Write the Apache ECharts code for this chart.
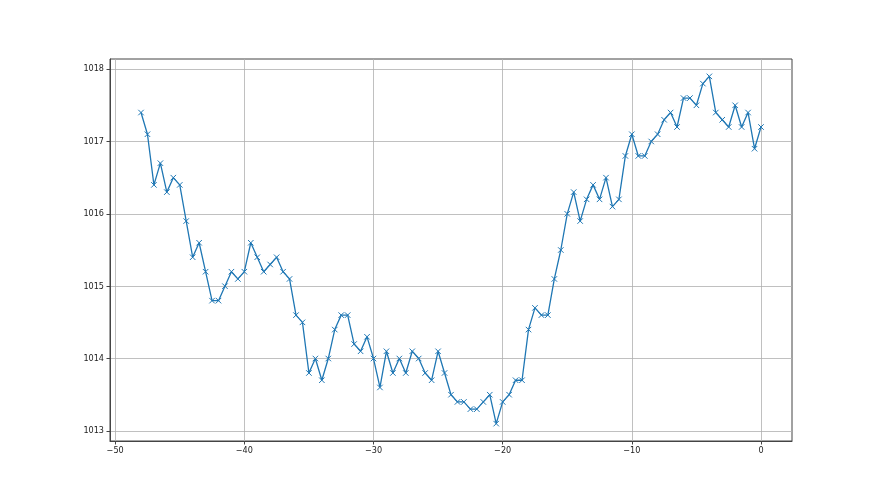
<!DOCTYPE html>
<html><head><meta charset="utf-8">
<script src="https://cdn.jsdelivr.net/npm/echarts@6/dist/echarts.min.js"></script>
<style>html,body{margin:0;padding:0;background:#fff}#c{width:880px;height:495px}</style>
</head><body><div id="c"></div>
<script>
const xValues = [-48,-47.5,-47,-46.5,-46,-45.5,-45,-44.5,-44,-43.5,-43,-42.5,-42,-41.5,-41,-40.5,-40,-39.5,-39,-38.5,-38,-37.5,-37,-36.5,-36,-35.5,-35,-34.5,-34,-33.5,-33,-32.5,-32,-31.5,-31,-30.5,-30,-29.5,-29,-28.5,-28,-27.5,-27,-26.5,-26,-25.5,-25,-24.5,-24,-23.5,-23,-22.5,-22,-21.5,-21,-20.5,-20,-19.5,-19,-18.5,-18,-17.5,-17,-16.5,-16,-15.5,-15,-14.5,-14,-13.5,-13,-12.5,-12,-11.5,-11,-10.5,-10,-9.5,-9,-8.5,-8,-7.5,-7,-6.5,-6,-5.5,-5,-4.5,-4,-3.5,-3,-2.5,-2,-1.5,-1,-0.5,0];
const pressure = [1017.4,1017.1,1016.4,1016.7,1016.3,1016.5,1016.4,1015.9,1015.4,1015.6,1015.2,1014.8,1014.8,1015.0,1015.2,1015.1,1015.2,1015.6,1015.4,1015.2,1015.3,1015.4,1015.2,1015.1,1014.6,1014.5,1013.8,1014.0,1013.7,1014.0,1014.4,1014.6,1014.6,1014.2,1014.1,1014.3,1014.0,1013.6,1014.1,1013.8,1014.0,1013.8,1014.1,1014.0,1013.8,1013.7,1014.1,1013.8,1013.5,1013.4,1013.4,1013.3,1013.3,1013.4,1013.5,1013.1,1013.4,1013.5,1013.7,1013.7,1014.4,1014.7,1014.6,1014.6,1015.1,1015.5,1016.0,1016.3,1015.9,1016.2,1016.4,1016.2,1016.5,1016.1,1016.2,1016.8,1017.1,1016.8,1016.8,1017.0,1017.1,1017.3,1017.4,1017.2,1017.6,1017.6,1017.5,1017.8,1017.9,1017.4,1017.3,1017.2,1017.5,1017.2,1017.4,1016.9,1017.2];
const xTicks = [-50,-40,-30,-20,-10,0];
const yTicks = [1013,1014,1015,1016,1017,1018];

const chart = echarts.init(document.getElementById('c'), null, {renderer:'canvas'});
const font = {fontFamily:'DejaVu Sans Condensed, DejaVu Sans', fontSize:9, color:'#222'};
chart.setOption({
  animation:false,
  grid:{left:110, right:88, top:59, bottom:54, show:true, borderColor:'#444', borderWidth:1, backgroundColor:'transparent'},
  xAxis:{type:'value', min:-50.4, max:2.4,
    axisLine:{show:true, onZero:false, lineStyle:{color:'#444', width:1}},
    axisTick:{show:true, length:3.5, customValues:xTicks, lineStyle:{color:'#444'}},
    axisLabel:Object.assign({margin:5, customValues:xTicks, formatter:v=>String(v).replace('-','\u2212')}, font),
    splitLine:{show:true, lineStyle:{color:'#b0b0b0', width:0.8}}
  },
  yAxis:{type:'value', min:1012.86, max:1018.14,
    axisLine:{show:true, onZero:false, lineStyle:{color:'#444', width:1}},
    axisTick:{show:true, length:3.5, customValues:yTicks, lineStyle:{color:'#444'}},
    axisLabel:Object.assign({margin:6, customValues:yTicks, formatter:v=>String(v)}, font),
    splitLine:{show:true, lineStyle:{color:'#b0b0b0', width:0.8}}
  },
  series:[{type:'line', data:xValues.map((x,i)=>[x,pressure[i]]),
    lineStyle:{color:'#1f77b4', width:1.3},
    symbol:'path://M0,0L10,10M10,0L0,10', symbolSize:5.5, showSymbol:true,
    itemStyle:{color:'#1f77b4', borderColor:'#1f77b4', borderWidth:1},
    emphasis:{disabled:true}
  }]
});
</script></body></html>
